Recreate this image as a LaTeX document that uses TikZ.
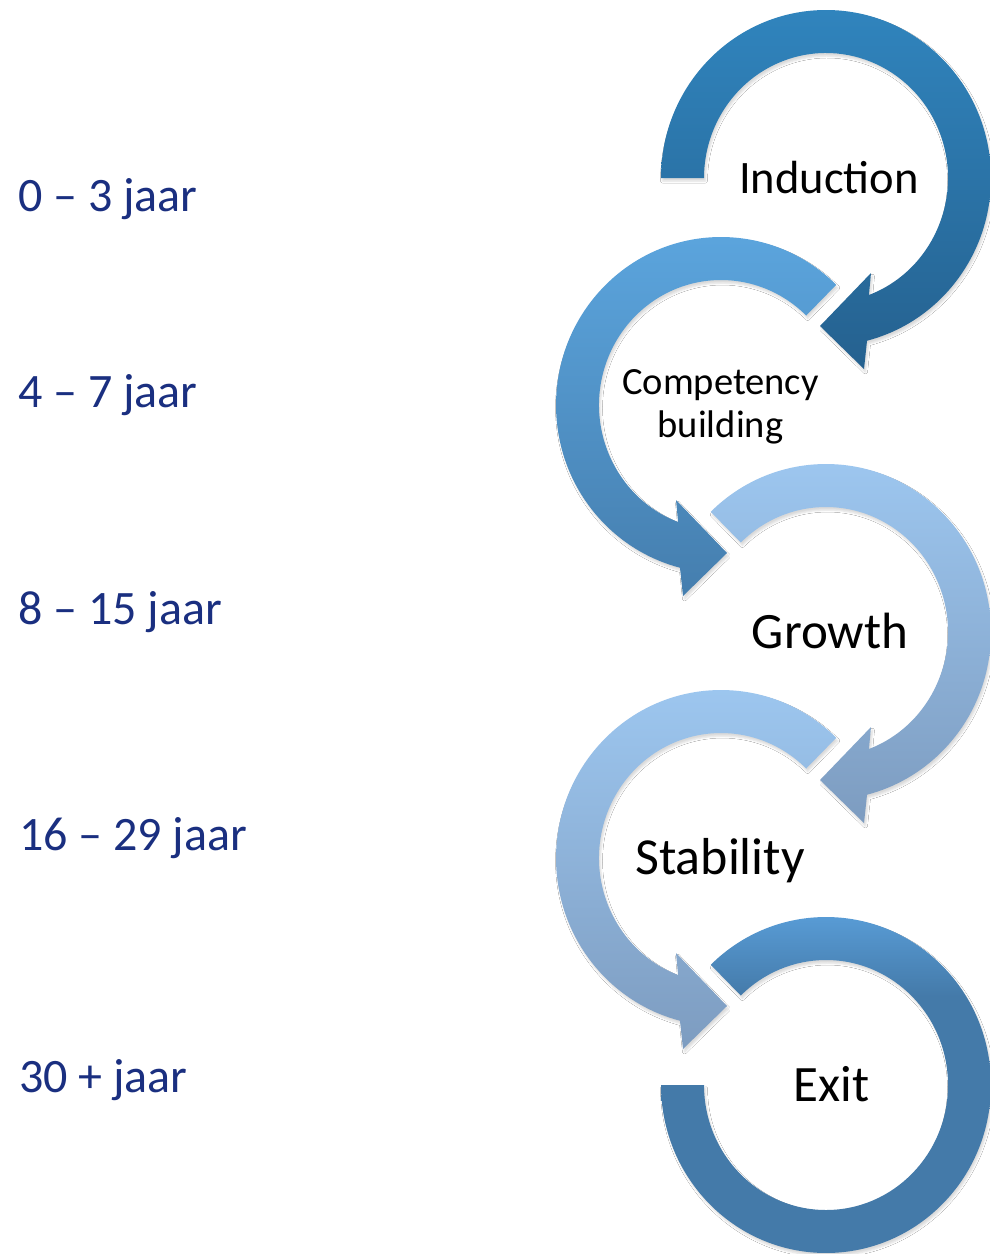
\documentclass[tikz,border=0pt]{standalone}
\usepackage{fontspec}
\setmainfont{Carlito}
\usetikzlibrary{shadows.blur}
\definecolor{navy}{RGB}{26,47,128}
\definecolor{rA}{RGB}{48,132,189}
\definecolor{rAb}{RGB}{37,97,143}
\definecolor{rB}{RGB}{92,166,223}
\definecolor{rBb}{RGB}{69,126,174}
\definecolor{rC}{RGB}{158,200,241}
\definecolor{rCb}{RGB}{125,156,192}
\definecolor{rE}{RGB}{92,162,222}
\definecolor{rEb}{RGB}{68,122,169}
\pgfdeclareverticalshading{exitshade}{100bp}{color(0bp)=(rEb); color(25bp)=(rEb); color(62bp)=(rEb); color(75bp)=(rE); color(100bp)=(rE)}
% ring with arrowhead: #1 centre, #2 mirror (1 or -1), #3 start angle, #4 style
\newcommand\headring[4]{%
  \begin{scope}[shift={#1}, xscale=#2]
    \path[#4] (#3:165 and 168)
      arc[start angle=#3, end angle=435.6, x radius=165, y radius=168]
      -- (38,191) -- (-6,148) -- (45,95)
      -- (429.4:122 and 125)
      arc[start angle=429.4, end angle=#3, x radius=122, y radius=125]
      -- cycle;
  \end{scope}}
\begin{document}
\begin{tikzpicture}[x=1pt,y=-1pt,
  lbl/.style={anchor=base west, inner sep=0pt, text=navy, font=\fontsize{48}{56}\selectfont},
  stage/.style={anchor=base, inner sep=0pt, text=black, align=center},
  ring/.style={draw=none, blur shadow={shadow xshift=1.5pt, shadow yshift=-3pt, shadow blur radius=2pt, shadow opacity=15}}]
\useasboundingbox[fill=white] (0,0) rectangle (990,1254);

% rings
\headring{(826,178)}{1}{180}{ring, top color=rA, bottom color=rAb}
\headring{(721,405)}{-1}{225.7}{ring, top color=rB, bottom color=rBb}
\headring{(826,632)}{1}{225.7}{ring, top color=rC, bottom color=rCb}
\headring{(721,858)}{-1}{225.7}{ring, top color=rC, bottom color=rCb}
\begin{scope}[shift={(826,1085)}]
  \path[ring, shade, shading=exitshade] (225.7:165 and 168)
    arc[start angle=225.7, end angle=540, x radius=165, y radius=168]
    -- (540:122 and 125)
    arc[start angle=540, end angle=225.7, x radius=122, y radius=125]
    -- cycle;
\end{scope}

% stage names
\node[stage, font=\fontsize{46.5}{50}\selectfont] (induction) at (829,193) {Induction};
\node[stage, font=\fontsize{38.5}{43}\selectfont] (competency) at (720.5,394) {Competency};
\node[stage, font=\fontsize{38.5}{43}\selectfont] (building) at (720.5,437) {building};
\node[stage, font=\fontsize{51}{56}\selectfont] (growth) at (830,648) {Growth};
\node[stage, font=\fontsize{52}{56}\selectfont] (stability) at (720,874) {Stability};
\node[stage, font=\fontsize{51}{56}\selectfont] (exit) at (831.5,1101) {Exit};

% year labels
\node[lbl] (y1) at (18,211) {0 – 3 jaar};
\node[lbl] (y2) at (18,407) {4 – 7 jaar};
\node[lbl] (y3) at (18,624) {8 – 15 jaar};
\node[lbl] (y4) at (19,850) {16 – 29 jaar};
\node[lbl] (y5) at (19,1092) {30 + jaar};
\end{tikzpicture}
\end{document}
